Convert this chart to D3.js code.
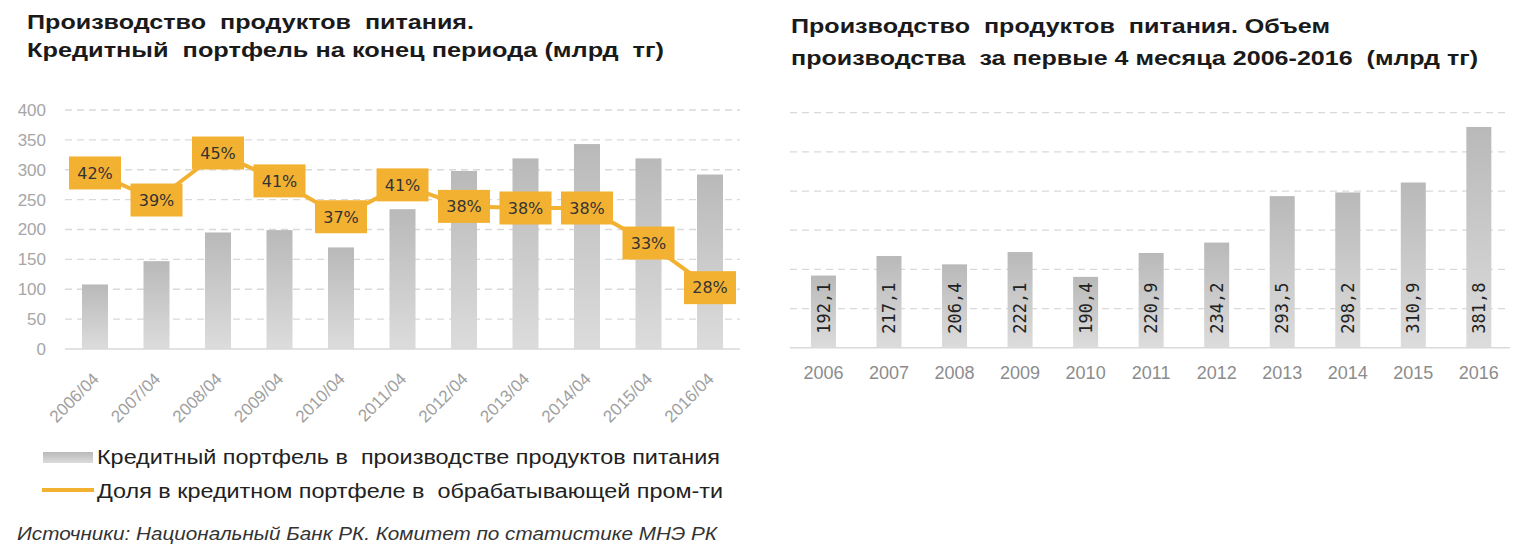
<!DOCTYPE html>
<html lang="ru">
<head>
<meta charset="UTF-8" />
<title>Производство продуктов питания</title>
<script src="https://d3js.org/d3.v7.min.js"></script>
<style>
  body { margin: 0; background: #fff; }
  svg text { white-space: pre; }
</style>
</head>
<body>
<div id="container"></div>
<script>
// left chart: credit portfolio (bars, bn tenge) and share in manufacturing (line, %)
const periods = ["2006/04", "2007/04", "2008/04", "2009/04", "2010/04", "2011/04",
                 "2012/04", "2013/04", "2014/04", "2015/04", "2016/04"]
const creditPortfolio = [108, 147, 195, 199, 170, 234, 298, 319, 343, 319, 292]
const shareInManufacturing = [42.1, 38.7, 44.6, 41.1, 36.6, 40.6, 37.9, 37.7, 37.7, 33.3, 27.7]
const leftTicks = [0, 50, 100, 150, 200, 250, 300, 350, 400]

// right chart: production volume for first 4 months
const years = ["2006", "2007", "2008", "2009", "2010", "2011", "2012", "2013", "2014", "2015", "2016"]
const production = [192.1, 217.1, 206.4, 222.1, 190.4, 220.9, 234.2, 293.5, 298.2, 310.9, 381.8]
const rightTicks = [150, 200, 250, 300, 350, 400]

const width = 1518, height = 557
const orange = "#f3b132"
const gridColor = "#d9d9d9"
const narrow = "'Liberation Sans Narrow', 'Arial Narrow', 'Liberation Sans', Arial, sans-serif"
const sans = "'Liberation Sans', Arial, sans-serif"

const svg = d3.select("#container").append("svg")
    .attr("width", width)
    .attr("height", height)
    .attr("viewBox", [0, 0, width, height])

const defs = svg.append("defs")
const grad = defs.append("linearGradient")
    .attr("id", "barGrad")
    .attr("x1", 0).attr("y1", 0).attr("x2", 0).attr("y2", 1)
grad.append("stop").attr("offset", "0%").attr("stop-color", "#b9b9b9")
grad.append("stop").attr("offset", "100%").attr("stop-color", "#dcdcdc")

// text helper, textLength keeps widths like the original narrow font
function label(x, y, txt, opts) {
    const t = svg.append("text")
        .attr("x", x)
        .attr("y", y)
        .attr("font-family", opts.family || narrow)
        .attr("font-size", opts.size)
        .attr("font-weight", opts.weight || "normal")
        .attr("font-style", opts.style || "normal")
        .attr("fill", opts.color || "#1a1a1a")
        .text(txt)
    if (opts.len) {
        t.attr("textLength", opts.len).attr("lengthAdjust", "spacingAndGlyphs")
    }
    return t
}

// ---------- titles ----------
label(27, 29, "Производство  продуктов  питания.", { size: 21, weight: "bold", len: 447 })
label(27, 57, "Кредитный  портфель на конец периода (млрд  тг)", { size: 21, weight: "bold", len: 637 })
label(791, 33, "Производство  продуктов  питания. Объем", { size: 21, weight: "bold", len: 539 })
label(791, 65, "производства  за первые 4 месяца 2006-2016  (млрд тг)", { size: 21, weight: "bold", len: 687 })

// ---------- left chart ----------
const xL = d3.scaleBand()
    .domain(periods)
    .range([64.25, 740.75])
    .paddingInner(0.577)
    .paddingOuter(0.2886)

const yL = d3.scaleLinear()
    .domain([0, 400])
    .range([349, 110])

const yShare = d3.scaleLinear()
    .domain([20, 50])
    .range([349, 110])

svg.append("g")
    .selectAll("line")
    .data(leftTicks.filter(d => d > 0))
    .join("line")
    .attr("x1", 65).attr("x2", 740)
    .attr("y1", d => yL(d)).attr("y2", d => yL(d))
    .attr("stroke", gridColor)
    .attr("stroke-width", 1.3)
    .attr("stroke-dasharray", "7,5")

svg.append("g")
    .attr("transform", "translate(46,0)")
    .call(d3.axisLeft(yL).tickValues(leftTicks).tickSize(0).tickPadding(0))
    .call(g => g.select(".domain").remove())
    .call(g => g.selectAll("text")
        .attr("font-family", sans)
        .attr("font-size", 17)
        .attr("fill", "#a6a6a6"))

svg.append("g")
    .selectAll("rect")
    .data(creditPortfolio)
    .join("rect")
    .attr("x", (d, i) => xL(periods[i]))
    .attr("y", d => yL(d))
    .attr("width", xL.bandwidth())
    .attr("height", d => yL(0) - yL(d))
    .attr("fill", "url(#barGrad)")

svg.append("line")
    .attr("x1", 65).attr("x2", 740)
    .attr("y1", yL(0)).attr("y2", yL(0))
    .attr("stroke", gridColor)
    .attr("stroke-width", 1.5)

svg.append("g")
    .attr("transform", `translate(0,${yL(0)})`)
    .call(d3.axisBottom(xL).tickSize(0))
    .call(g => g.select(".domain").remove())
    .call(g => g.selectAll("text")
        .attr("x", 0).attr("y", 0).attr("dy", 0)
        .attr("transform", "translate(5,31) rotate(-45)")
        .attr("text-anchor", "end")
        .attr("font-family", sans)
        .attr("font-size", 17)
        .attr("fill", "#a0a0a0"))

const shareLine = d3.line()
    .x((d, i) => xL(periods[i]) + xL.bandwidth() / 2)
    .y(d => yShare(d))

svg.append("path")
    .datum(shareInManufacturing)
    .attr("fill", "none")
    .attr("stroke", orange)
    .attr("stroke-width", 4)
    .attr("stroke-linejoin", "round")
    .attr("d", shareLine)

const boxW = 52, boxH = 33
const boxes = svg.append("g")
    .selectAll("g")
    .data(shareInManufacturing)
    .join("g")
    .attr("transform", (d, i) => `translate(${xL(periods[i]) + xL.bandwidth() / 2},${yShare(d)})`)

boxes.append("rect")
    .attr("x", -boxW / 2).attr("y", -boxH / 2)
    .attr("width", boxW).attr("height", boxH)
    .attr("fill", orange)

boxes.append("text")
    .attr("text-anchor", "middle")
    .attr("dy", "0.36em")
    .attr("font-family", "'DejaVu Sans', sans-serif")
    .attr("font-size", 16)
    .attr("fill", "#333")
    .text(d => Math.round(d) + "%")

// legend + source
svg.append("rect")
    .attr("x", 43).attr("y", 452)
    .attr("width", 50).attr("height", 11)
    .attr("fill", "url(#barGrad)")
label(97, 464, "Кредитный портфель в  производстве продуктов питания", { size: 20, color: "#222", len: 623 })

svg.append("line")
    .attr("x1", 42).attr("x2", 94)
    .attr("y1", 490).attr("y2", 490)
    .attr("stroke", orange)
    .attr("stroke-width", 4)
label(97, 498, "Доля в кредитном портфеле в  обрабатывающей пром-ти", { size: 20, color: "#222", len: 626 })

label(17, 540, "Источники: Национальный Банк РК. Комитет по статистике МНЭ РК",
    { size: 18, style: "italic", color: "#333", len: 700 })

// ---------- right chart ----------
const xR = d3.scaleBand()
    .domain(years)
    .range([790.7, 1511.6])
    .paddingInner(0.6185)
    .paddingOuter(0.309)

const yR = d3.scaleLinear()
    .domain([100, 400])
    .range([347.7, 112.7])

svg.append("g")
    .selectAll("line")
    .data(rightTicks)
    .join("line")
    .attr("x1", 790).attr("x2", 1510)
    .attr("y1", d => yR(d)).attr("y2", d => yR(d))
    .attr("stroke", gridColor)
    .attr("stroke-width", 1.3)
    .attr("stroke-dasharray", "7,5")

svg.append("g")
    .selectAll("rect")
    .data(production)
    .join("rect")
    .attr("x", (d, i) => xR(years[i]))
    .attr("y", d => yR(d))
    .attr("width", xR.bandwidth())
    .attr("height", d => yR(100) - yR(d))
    .attr("fill", "url(#barGrad)")

svg.append("line")
    .attr("x1", 790).attr("x2", 1510)
    .attr("y1", yR(100)).attr("y2", yR(100))
    .attr("stroke", gridColor)
    .attr("stroke-width", 1.5)

svg.append("g")
    .selectAll("text")
    .data(production)
    .join("text")
    .attr("transform", (d, i) => `translate(${xR(years[i]) + xR.bandwidth() / 2},${yR(100) - 14}) rotate(-90)`)
    .attr("text-anchor", "start")
    .attr("dy", "0.36em")
    .attr("font-family", "'DejaVu Sans Mono', monospace")
    .attr("font-size", 17)
    .attr("fill", "#222")
    .text(d => d3.format(".1f")(d).replace(".", ","))

svg.append("g")
    .attr("transform", `translate(0,${yR(100)})`)
    .call(d3.axisBottom(xR).tickSize(0).tickPadding(19))
    .call(g => g.select(".domain").remove())
    .call(g => g.selectAll("text")
        .attr("font-family", sans)
        .attr("font-size", 18)
        .attr("fill", "#8c8c8c"))
</script>
</body>
</html>
